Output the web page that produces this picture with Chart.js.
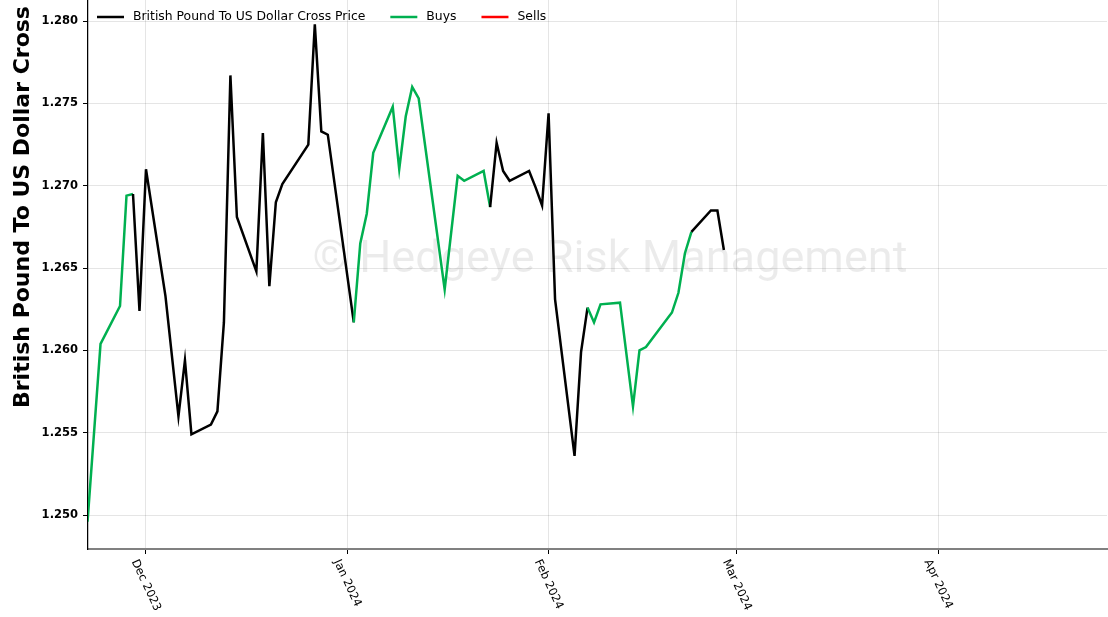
<!DOCTYPE html>
<html>
<head>
<meta charset="utf-8">
<script src="https://cdn.jsdelivr.net/npm/chart.js@4.4.1/dist/chart.umd.min.js"></script>
<style>
  html, body { margin: 0; padding: 0; background: #fff; }
</style>
</head>
<body>
<canvas id="gbpusd" width="1108" height="617"></canvas>
<script>
// trading days
var dates = [
  '2023-11-22', '2023-11-24', '2023-11-27', '2023-11-28', '2023-11-29', '2023-11-30',
  '2023-12-01', '2023-12-04', '2023-12-06', '2023-12-07', '2023-12-08', '2023-12-11',
  '2023-12-12', '2023-12-13', '2023-12-14', '2023-12-15', '2023-12-18', '2023-12-19',
  '2023-12-20', '2023-12-21', '2023-12-22', '2023-12-26', '2023-12-27', '2023-12-28',
  '2023-12-29', '2024-01-02', '2024-01-03', '2024-01-04', '2024-01-05', '2024-01-08',
  '2024-01-09', '2024-01-10', '2024-01-11', '2024-01-12', '2024-01-16', '2024-01-18',
  '2024-01-19', '2024-01-22', '2024-01-23', '2024-01-24', '2024-01-25', '2024-01-26',
  '2024-01-29', '2024-01-30', '2024-01-31', '2024-02-01', '2024-02-02', '2024-02-05',
  '2024-02-06', '2024-02-07', '2024-02-08', '2024-02-09', '2024-02-12', '2024-02-14',
  '2024-02-15', '2024-02-16', '2024-02-20', '2024-02-21', '2024-02-22', '2024-02-23',
  '2024-02-26', '2024-02-27', '2024-02-28'
];
var prices = [
  1.2496, 1.2604, 1.2627, 1.2694, 1.2695, 1.2624,
  1.2710, 1.2633, 1.2560, 1.2594, 1.2549, 1.2555,
  1.2563, 1.2617, 1.2767, 1.2681, 1.2648, 1.2732,
  1.2639, 1.2690, 1.2701, 1.2725, 1.2798, 1.2733,
  1.2731, 1.2617, 1.2665, 1.2683, 1.2720, 1.2748,
  1.2710, 1.2742, 1.2760, 1.2753, 1.2637, 1.2706,
  1.2703, 1.2709, 1.2687, 1.2726, 1.2709, 1.2703,
  1.2709, 1.2699, 1.2688, 1.2744, 1.2631, 1.2536,
  1.2599, 1.2626, 1.2617, 1.2628, 1.2629, 1.2566,
  1.2600, 1.2602, 1.2623, 1.2635, 1.2659, 1.2672,
  1.2685, 1.2685, 1.2661
];
// B = buy signal on that day, '' = none
var signals = [
  'B', 'B', 'B', 'B', 'B', '',
  '', '', '', '', '', '',
  '', '', '', '', '', '',
  '', '', '', '', '', '',
  '', 'B', 'B', 'B', 'B', 'B',
  'B', 'B', 'B', 'B', 'B', 'B',
  'B', 'B', 'B', '', '', '',
  '', '', '', '', '', '',
  '', 'B', 'B', 'B', 'B', 'B',
  'B', 'B', 'B', 'B', 'B', 'B',
  '', '', ''
];
var monthTicks = ['2023-12-01', '2024-01-01', '2024-02-01', '2024-03-01', '2024-04-01'];
var monthLabels = ['Dec 2023', 'Jan 2024', 'Feb 2024', 'Mar 2024', 'Apr 2024'];
var yTicks = [1.250, 1.255, 1.260, 1.265, 1.270, 1.275, 1.280];

var BLACK = '#000000';
var GREEN = '#00b050';
var RED = '#ff0000';

// days counted from Dec 1 2023
function dayNum(s) {
  var p = s.split('-');
  return (Date.UTC(+p[0], +p[1] - 1, +p[2]) - Date.UTC(2023, 11, 1)) / 864e5;
}

var pricePoints = dates.map(function (d, i) {
  return { x: dayNum(d), y: prices[i] };
});

var watermark = {
  id: 'watermark',
  beforeDatasetsDraw: function (chart) {
    var c = chart.ctx;
    var txt = '\u00a9 Hedgeye Risk Management';
    c.save();
    c.font = '44px Roboto';
    var size = 44 * 595 / c.measureText(txt).width;
    c.font = size.toFixed(1) + 'px Roboto';
    c.fillStyle = 'rgba(0,0,0,0.08)';
    c.textAlign = 'center';
    c.textBaseline = 'alphabetic';
    c.fillText(txt, 610, 272);
    c.restore();
  }
};

var plotLegend = {
  id: 'plotLegend',
  afterDatasetsDraw: function (chart) {
    var c = chart.ctx;
    var x = chart.chartArea.left + 9;
    var y = 17;
    c.save();
    c.font = '12.4px "DejaVu Sans"';
    c.textBaseline = 'middle';
    c.fillStyle = '#000';
    chart.data.datasets.forEach(function (ds) {
      c.strokeStyle = ds.borderColor;
      c.lineWidth = 2.5;
      c.beginPath();
      c.moveTo(x, y);
      c.lineTo(x + 27, y);
      c.stroke();
      c.fillText(ds.label, x + 36, y);
      x += 36 + c.measureText(ds.label).width + 25;
    });
    c.restore();
  }
};

var axisText = {
  id: 'axisText',
  afterDraw: function (chart) {
    var c = chart.ctx;
    var xs = chart.scales.x;
    var ang = 65 * Math.PI / 180;
    c.save();
    c.fillStyle = '#000';
    c.font = '11.5px "DejaVu Sans"';
    c.textAlign = 'center';
    c.textBaseline = 'middle';
    monthTicks.forEach(function (m, i) {
      var w = c.measureText(monthLabels[i]).width;
      var h = 11;
      var boxH = w * Math.sin(ang) + h * Math.cos(ang);
      c.save();
      c.translate(xs.getPixelForValue(dayNum(m)), 558 + boxH / 2);
      c.rotate(ang);
      c.fillText(monthLabels[i], 0, 0);
      c.restore();
    });
    // y axis title
    c.font = 'bold 22px "DejaVu Sans"';
    c.textAlign = 'left';
    c.textBaseline = 'alphabetic';
    c.translate(29, 408);
    c.rotate(-Math.PI / 2);
    c.fillText('British Pound To US Dollar Cross Price', 0, 0);
    c.restore();
  }
};

var ctx_gbpusd = document.getElementById('gbpusd');
var gbpusd = new Chart(ctx_gbpusd, {
  type: 'line',
  data: {
    datasets: [
      {
        label: 'British Pound To US Dollar Cross Price',
        borderColor: BLACK,
        data: pricePoints,
        borderWidth: 2.5,
        pointRadius: 0,
        tension: 0,
        segment: {
          borderColor: function (ctx) {
            return (signals[ctx.p0DataIndex] === 'B' && signals[ctx.p1DataIndex] === 'B') ? GREEN : BLACK;
          }
        }
      },
      {
        label: 'Buys',
        borderColor: GREEN,
        data: [],
        borderWidth: 2.5,
        pointRadius: 0
      },
      {
        label: 'Sells',
        borderColor: RED,
        data: [],
        borderWidth: 2.5,
        pointRadius: 0
      }
    ]
  },
  options: {
    responsive: false,
    animation: false,
    layout: { padding: { top: 0, right: 1, bottom: 0, left: 0 } },
    scales: {
      x: {
        type: 'linear',
        min: -8.93,
        max: 148.0,
        afterBuildTicks: function (scale) {
          scale.ticks = monthTicks.map(function (m) { return { value: dayNum(m) }; });
        },
        afterFit: function (scale) {
          scale.height = 68;
          scale.paddingLeft = 0;
          scale.paddingRight = 0;
        },
        ticks: { display: false },
        grid: { color: 'rgba(0,0,0,0.1)', tickColor: '#000', tickLength: 5 },
        border: { color: '#808080', width: 2 }
      },
      y: {
        min: 1.24794,
        max: 1.28128,
        afterBuildTicks: function (scale) {
          scale.ticks = yTicks.map(function (v) { return { value: v }; });
        },
        afterFit: function (scale) {
          scale.width = 88;
          scale.paddingTop = 0;
          scale.paddingBottom = 0;
        },
        ticks: {
          color: '#000',
          padding: 5,
          font: { family: 'DejaVu Sans', size: 11.5, weight: 'bold' },
          callback: function (v) { return v.toFixed(3); }
        },
        grid: { color: 'rgba(0,0,0,0.1)', tickColor: '#000', tickLength: 5 },
        border: { color: '#000', width: 1.25 }
      }
    },
    plugins: {
      legend: { display: false },
      tooltip: { enabled: false }
    }
  },
  plugins: [watermark, plotLegend, axisText]
});
</script>
</body>
</html>
